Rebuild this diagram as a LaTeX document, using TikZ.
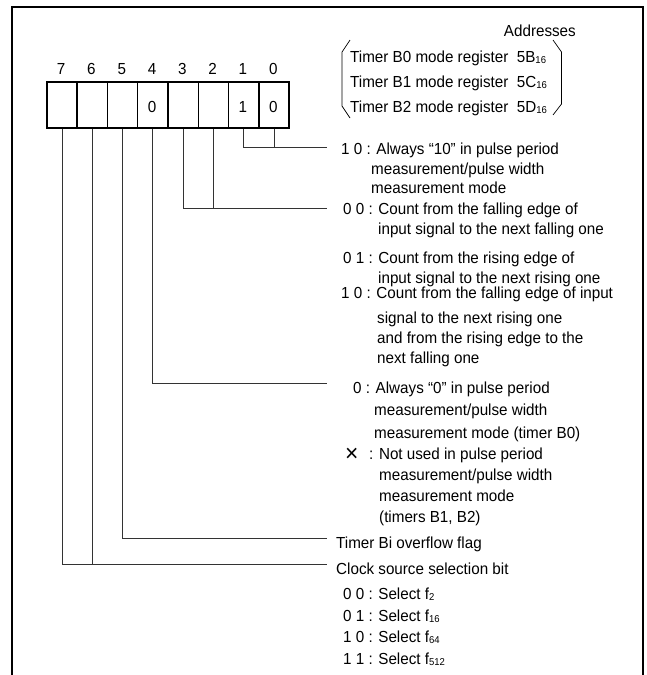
\documentclass[tikz,border=0pt]{standalone}
\usepackage{fontspec}
\setmainfont[FakeStretch=0.95]{Liberation Sans}
\newcommand{\sbs}[1]{{\fontsize{10}{10}\selectfont\raisebox{-1.5pt}{#1}}}
\begin{document}
\begin{tikzpicture}[x=1pt,y=-1pt,
  txt/.style={inner sep=0pt, anchor=base west, font=\fontsize{16}{19}\selectfont},
  bitbox/.style={draw=black, line width=1.5pt, minimum width=30.3pt, minimum height=46pt, inner sep=0pt, anchor=north west, font=\fontsize{16}{19}\selectfont},
  bitnum/.style={inner sep=0pt, anchor=base, font=\fontsize{16}{19}\selectfont},
  conn/.style={draw=black!80, line width=0.8pt},
  frame/.style={draw=black, line width=2pt},
  brk/.style={draw=black, line width=0.7pt}]
\useasboundingbox (0,0) rectangle (647,675);
% frame
\draw[frame] (12.3,675) -- (12.3,7) -- (643,7) -- (643,675);
% register boxes
\foreach \i/\b/\v in {0/7/{},1/6/{},2/5/{},3/4/0,4/3/{},5/2/{},6/1/1,7/0/0}{
  \node[bitbox] (b\b) at ({46+30.3*\i},81) {};
  \node[bitnum] (v\b) at ({61.15+30.3*\i},112) {\v};
  \node[bitnum] (n\b) at ({61.15+30.3*\i},74) {\b};
}
% header
\node[txt, anchor=base east] (addr) at (576,36) {Addresses};
\node[txt] (tb0) at (350,62) {Timer B0 mode register\ \ 5B\sbs{16}};
\node[txt] (tb1) at (350,87) {Timer B1 mode register\ \ 5C\sbs{16}};
\node[txt] (tb2) at (350,112) {Timer B2 mode register\ \ 5D\sbs{16}};
\draw[brk] (350,40) -- (342,52) -- (342,106) -- (350,118);
\draw[brk] (553,40) -- (561.5,52) -- (561.5,104) -- (553,115);
% connector ends
\coordinate (e10) at (327,147);
\coordinate (e32) at (327,208);
\coordinate (e4) at (327,383);
\coordinate (e5) at (327,538);
\coordinate (e76) at (327,564);
% connectors
\draw[conn] (b1.south) |- (e10);
\draw[conn] (b0.south) -- (b0.south |- e10);
\draw[conn] (b3.south) |- (e32);
\draw[conn] (b2.south) -- (b2.south |- e32);
\draw[conn] (b4.south) |- (e4);
\draw[conn] (b5.south) |- (e5);
\draw[conn] (b7.south) |- (e76);
\draw[conn] (b6.south) -- (b6.south |- e76);
% group A
\node[txt] (a1) at (341,154) {1 0 : Always “10” in pulse period};
\node[txt] (a2) at (371,174) {measurement/pulse width};
\node[txt] (a3) at (371,193) {measurement mode};
% group B
\node[txt] (c1) at (343,214) {0 0 : Count from the falling edge of};
\node[txt] (c2) at (378,234) {input signal to the next falling one};
\node[txt] (c3) at (343,263) {0 1 : Count from the rising edge of};
\node[txt] (c4) at (378,283) {input signal to the next rising one};
\node[txt] (c5) at (341,298) {1 0 : Count from the falling edge of input};
\node[txt] (c6) at (377,323) {signal to the next rising one};
\node[txt] (c7) at (377,343) {and from the rising edge to the};
\node[txt] (c8) at (377,363) {next falling one};
% group C
\node[txt] (d1) at (353,393) {0 : Always “0” in pulse period};
\node[txt] (d2) at (374,415) {measurement/pulse width};
\node[txt] (d3) at (374,438) {measurement mode (timer B0)};
\node[txt, font=\fontsize{24}{24}\selectfont] (d4x) at (345,461) {×};
\node[txt] (d4) at (369,459) {: Not used in pulse period};
\node[txt] (d5) at (379,480) {measurement/pulse width};
\node[txt] (d6) at (379,501) {measurement mode};
\node[txt] (d7) at (379,522) {(timers B1, B2)};
% group D, E
\node[txt] (f1) at (336,548) {Timer Bi overflow flag};
\node[txt] (g1) at (336,574) {Clock source selection bit};
\node[txt] (g2) at (343,599) {0 0 : Select f\sbs{2}};
\node[txt] (g3) at (343,621) {0 1 : Select f\sbs{16}};
\node[txt] (g4) at (343,642) {1 0 : Select f\sbs{64}};
\node[txt] (g5) at (343,664) {1 1 : Select f\sbs{512}};
\end{tikzpicture}
\end{document}
